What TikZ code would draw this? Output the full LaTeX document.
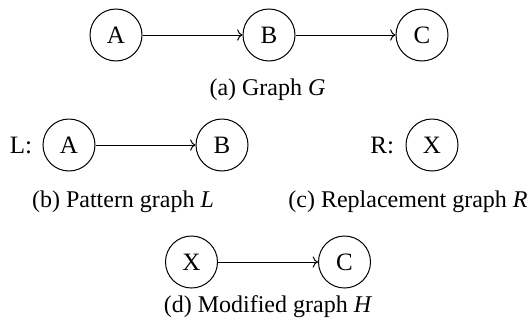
\documentclass[tikz,border=0pt]{standalone}
\usepackage{fontspec}
\setmainfont{Liberation Serif}
\usepackage{tikz}
\usetikzlibrary{arrows.meta,positioning}
\tikzset{
  vertex/.style ={circle,draw,line width=0.5pt,minimum size=26pt,inner sep=0pt,
                  font=\fontsize{12.5}{15}\selectfont},
  flow/.style   ={->,line width=0.5pt},
  tag/.style    ={inner sep=0pt,font=\fontsize{12.5}{15}\selectfont},
  subcap/.style ={anchor=base,inner sep=0pt,font=\fontsize{12}{14}\selectfont}
}

\begin{document}
\begin{tikzpicture}[x=1pt,y=1pt]
  \useasboundingbox (0,0) rectangle (265,-161);
  % (a) graph G
  \node[vertex] (gA) at (58,-17.5) {A};
  \node[vertex,right=50pt of gA] (gB) {B};
  \node[vertex,right=50pt of gB] (gC) {C};
  \draw[flow] (gA) -- (gB);
  \draw[flow] (gB) -- (gC);
  \node[subcap] (capa) at (133.75,-47.5) {(a) Graph \textit{G}};
  % (b) pattern L
  \node[vertex] (lA) at (34.5,-72.5) {A};
  \node[vertex,right=50pt of lA] (lB) {B};
  \node[tag,left=5pt of lA] (lname) {L:};
  \draw[flow] (lA) -- (lB);
  \node[subcap] (capb) at (61.5,-103.5) {(b) Pattern graph \textit{L}};
  % (c) replacement R
  \node[vertex] (rX) at (216,-72.5) {X};
  \node[tag,left=5.5pt of rX] (rname) {R:};
  \node[subcap] (capc) at (204,-103.5) {(c) Replacement graph \textit{R}};
  % (d) modified H
  \node[vertex] (hX) at (95.75,-131) {X};
  \node[vertex,right=50pt of hX] (hC) {C};
  \draw[flow] (hX) -- (hC);
  \node[subcap] (capd) at (134,-156) {(d) Modified graph \textit{H}};
\end{tikzpicture}
\end{document}
